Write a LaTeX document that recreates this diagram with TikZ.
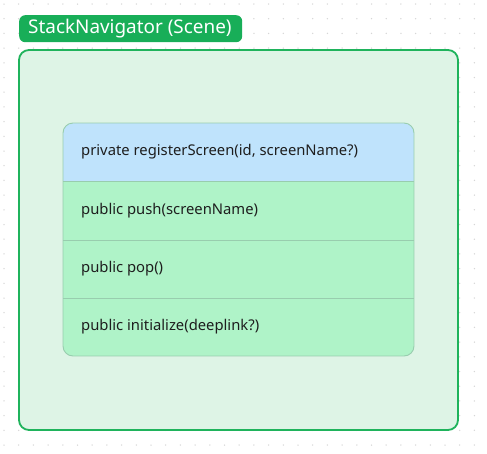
\documentclass[tikz,border=0pt]{standalone}
\usepackage{fontspec}
\setmainfont{Noto Sans}
\definecolor{gridc}{HTML}{D6D6D6}
\definecolor{scenefill}{HTML}{DEF4E6}
\definecolor{sceneline}{HTML}{1FB35C}
\definecolor{titlefill}{HTML}{18AE58}
\definecolor{bluefill}{HTML}{BFE3FC}
\definecolor{greenfill}{HTML}{AFF3C8}
\definecolor{rowline}{HTML}{98CDAE}
\definecolor{txt}{HTML}{1E1E1E}
\tikzset{
  rowtext/.style={anchor=west,text=txt,font=\fontsize{14.8}{16}\selectfont,inner sep=0pt},
}
\begin{document}
\begin{tikzpicture}[x=1pt,y=-1pt]
\useasboundingbox (0,0) rectangle (487,453);
\fill[white] (0,0) rectangle (487,453);
% dot grid
\foreach \i in {0,...,33}{
  \foreach \j in {0,...,30}{
    \fill[gridc] ({4+14.7*\i},{4+14.7*\j}) circle (0.75);
  }
}
% scene container
\draw[sceneline,line width=1.8pt,fill=scenefill,rounded corners=10pt] (19,50) rectangle (458,430);
\coordinate (scene) at (238.5,240);
% title label
\node[fill=titlefill,rounded corners=6pt,minimum width=223pt,minimum height=27pt,inner sep=0pt,anchor=north west] (title) at (19,15) {};
\node[text=white,font=\fontsize{18.9}{20}\selectfont,anchor=west,inner sep=0pt] (titletext) at (28,28.5) {StackNavigator (Scene)};
% table
\begin{scope}
\clip[rounded corners=10pt] (63,123) rectangle (414,356);
\fill[bluefill] (63,123) rectangle (414,181);
\fill[greenfill] (63,181) rectangle (414,356);
\draw[rowline,line width=0.8pt] (63,181) -- (414,181);
\draw[rowline,line width=0.8pt] (63,240) -- (414,240);
\draw[rowline,line width=0.8pt] (63,298) -- (414,298);
\end{scope}
\draw[rowline,line width=0.9pt,rounded corners=10pt] (63,123) rectangle (414,356);
\node[rowtext] (r1) at (81,152) {private registerScreen(id, screenName?)};
\node[rowtext] (r2) at (81,211) {public push(screenName)};
\node[rowtext] (r3) at (81,269) {public pop()};
\node[rowtext] (r4) at (81,327) {public initialize(deeplink?)};
\end{tikzpicture}
\end{document}
